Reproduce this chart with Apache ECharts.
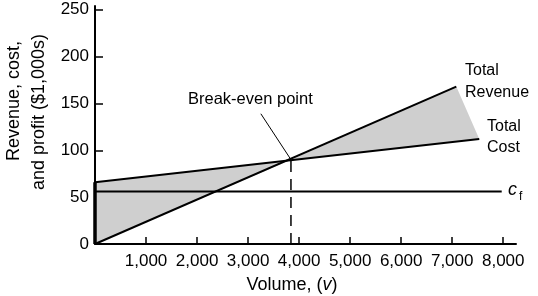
<!DOCTYPE html>
<html>
<head>
<meta charset="utf-8">
<script src="https://cdn.jsdelivr.net/npm/echarts@6.0.0/dist/echarts.min.js"></script>
<style>
  html, body { margin: 0; padding: 0; background: #fff; }
  #chart { width: 538px; height: 296px; }
</style>
</head>
<body>
<div id="chart"></div>
<script>
// values (volume, $1,000s)
const revenueLine = [[0, 0], [7080, 168]];
const costLine = [[0, 66], [7530, 112]];
const fixedCostLine = [[0, 56], [7970, 56]];
const breakEven = [3840, 90];
const pointerStart = [3250, 139];
const xTicks = [1000, 2000, 3000, 4000, 5000, 6000, 7000, 8000];
const yTicks = [0, 50, 100, 150, 200, 250];

// shaded areas: loss on the left, profit on the right
const shades = [
  [costLine[0], breakEven, revenueLine[0]],
  [breakEven, revenueLine[1], costLine[1]]
];

const font = "'Liberation Sans', Arial, sans-serif";
const chart = echarts.init(document.getElementById("chart"));

function label(text, x, y, size, extra) {
  return {
    type: "text",
    x: x,
    y: y,
    style: Object.assign(
      { text: text, font: size + "px " + font, verticalAlign: "middle", fill: "#000" },
      extra || {}
    )
  };
}

const option = {
  animation: false,
  grid: { left: 95, right: 22, top: 6, bottom: 52 },
  xAxis: {
    type: "value",
    min: 0,
    max: 8250,
    splitLine: { show: false },
    axisLine: { lineStyle: { color: "#000", width: 2 } },
    axisTick: {
      customValues: xTicks,
      inside: true,
      length: 7,
      lineStyle: { color: "#000", width: 1.5 }
    },
    axisLabel: {
      customValues: xTicks,
      margin: 9,
      color: "#000",
      fontFamily: font,
      fontSize: 17,
      formatter: (v) => v.toLocaleString("en-US")
    }
  },
  yAxis: {
    type: "value",
    min: 0,
    max: 254,
    splitLine: { show: false },
    axisLine: { show: true, lineStyle: { color: "#000", width: 2 } },
    axisTick: {
      show: true,
      customValues: yTicks,
      inside: true,
      length: 8,
      lineStyle: { color: "#000", width: 1.5 }
    },
    axisLabel: {
      customValues: yTicks,
      margin: 6,
      color: "#000",
      fontFamily: font,
      fontSize: 17
    }
  },
  graphic: [
    Object.assign(label("Revenue, cost,", 14, 101, 18, { align: "center" }), { rotation: Math.PI / 2 }),
    Object.assign(label("and profit ($1,000s)", 39, 112, 18, { align: "center" }), { rotation: Math.PI / 2 }),
    label("Volume, ({i|v})", 292, 285, 18, {
      align: "center",
      rich: { i: { fontStyle: "italic", fontSize: 18, fontFamily: font } }
    }),
    label("Break-even point", 188, 99, 16.5),
    label("Total\nRevenue", 465, 82, 16, { lineHeight: 22 }),
    label("Total\nCost", 487, 137, 16, { lineHeight: 21 }),
    label("c", 508, 190, 18, { font: "italic 18px " + font }),
    label("f", 519, 197, 12)
  ],
  series: [
    {
      type: "custom",
      coordinateSystem: "cartesian2d",
      silent: true,
      data: shades.map((s) => s[0]),
      renderItem: (params, api) => ({
        type: "polygon",
        shape: { points: shades[params.dataIndex].map((p) => api.coord(p)) },
        style: { fill: "#cfcfcf" }
      })
    },
    {
      type: "line",
      data: [revenueLine[0], costLine[0]],
      symbol: "none",
      lineStyle: { color: "#000", width: 3.5 }
    },
    {
      name: "Total Revenue",
      type: "line",
      data: revenueLine,
      symbol: "none",
      lineStyle: { color: "#000", width: 2 }
    },
    {
      name: "Total Cost",
      type: "line",
      data: costLine,
      symbol: "none",
      lineStyle: { color: "#000", width: 2 }
    },
    {
      name: "Fixed cost",
      type: "line",
      data: fixedCostLine,
      symbol: "none",
      lineStyle: { color: "#000", width: 2 }
    },
    {
      type: "line",
      data: [[breakEven[0], 0], breakEven],
      symbol: "none",
      lineStyle: { color: "#000", width: 1.5, type: [11, 7] }
    },
    {
      type: "line",
      data: [pointerStart, breakEven],
      symbol: "none",
      lineStyle: { color: "#000", width: 1 }
    }
  ]
};

chart.setOption(option);
</script>
</body>
</html>
